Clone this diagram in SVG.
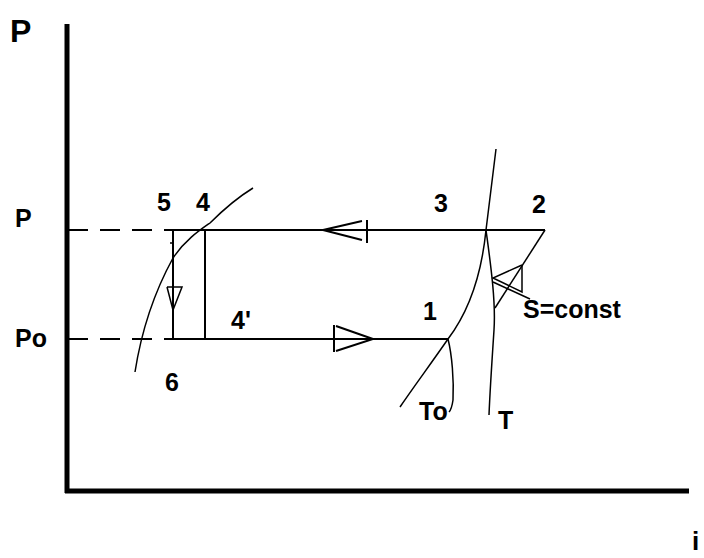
<svg xmlns="http://www.w3.org/2000/svg" width="704" height="558" viewBox="0 0 704 558">
<style>
.lbl{font-family:"Liberation Sans",Arial,sans-serif;font-weight:bold;font-size:25px;fill:#000}
.ln{stroke:#000;stroke-width:2;fill:none}
.thin{stroke:#000;stroke-width:1.5;fill:none}
.dash{stroke:#000;stroke-width:2;fill:none;stroke-dasharray:20 12}
.ax{stroke:#000;stroke-width:5;fill:none}
</style>
<rect width="704" height="558" fill="#fff"/>
<g id="axes">
<line class="ax" x1="67" y1="24" x2="67" y2="493"/>
<line class="ax" x1="65" y1="491" x2="689" y2="491"/>
<text class="lbl" x="10" y="42" style="font-size:32px">P</text>
<text class="lbl" x="692" y="550" style="font-size:26px">i</text>
</g>
<g id="connectors">
<line class="dash" x1="68" y1="230" x2="173" y2="230"/>
<line class="dash" x1="68" y1="339" x2="173" y2="339"/>
<line class="ln" x1="173" y1="230" x2="545" y2="230"/>
<line class="ln" x1="173" y1="339" x2="448" y2="339"/>
<line class="ln" x1="173" y1="230" x2="173" y2="339"/>
<line class="ln" x1="205" y1="230" x2="205" y2="339"/>
<polyline class="ln" points="362,221 323,230 362,240"/>
<line class="ln" x1="367" y1="220" x2="367" y2="243"/>
<polyline class="ln" points="334,325 334,352"/>
<polyline class="ln" points="336,326 373,339 336,351"/>
<polyline class="thin" points="167,287 182,287 173,310 167,287"/>
<line class="thin" x1="170" y1="243" x2="173" y2="243"/>
<path class="thin" d="M135,372 C140,340 150,300 173,258 C185,240 200,230 210,223 C225,208 240,196 253,188"/>
<path class="thin" d="M496,149 L486,230 C482,270 470,310 448,339 C430,365 415,385 400,407"/>
<path class="thin" d="M486,230 C490,260 496,300 494,330 C492,360 490,390 489,415"/>
<path class="thin" d="M448,339 C452,355 454,380 453,400 C452,407 451,410 449,412"/>
<line class="thin" x1="545" y1="230" x2="495" y2="308"/>
<polyline class="thin" points="522,265 493,278 522,292 522,265"/>
<line class="thin" x1="493" y1="282" x2="530" y2="299"/>
</g>
<g id="labels">
<text class="lbl" x="15" y="227">P</text>
<text class="lbl" x="15" y="347">Po</text>
<text class="lbl" x="157" y="211">5</text>
<text class="lbl" x="196" y="211">4</text>
<text class="lbl" x="434" y="212">3</text>
<text class="lbl" x="532" y="213">2</text>
<text class="lbl" x="423" y="320">1</text>
<text class="lbl" x="231" y="329">4'</text>
<text class="lbl" x="165" y="391">6</text>
<text class="lbl" x="419" y="420">To</text>
<text class="lbl" x="498" y="429">T</text>
<text class="lbl" x="523" y="318" style="font-size:25px">S=const</text>
</g>
</svg>
